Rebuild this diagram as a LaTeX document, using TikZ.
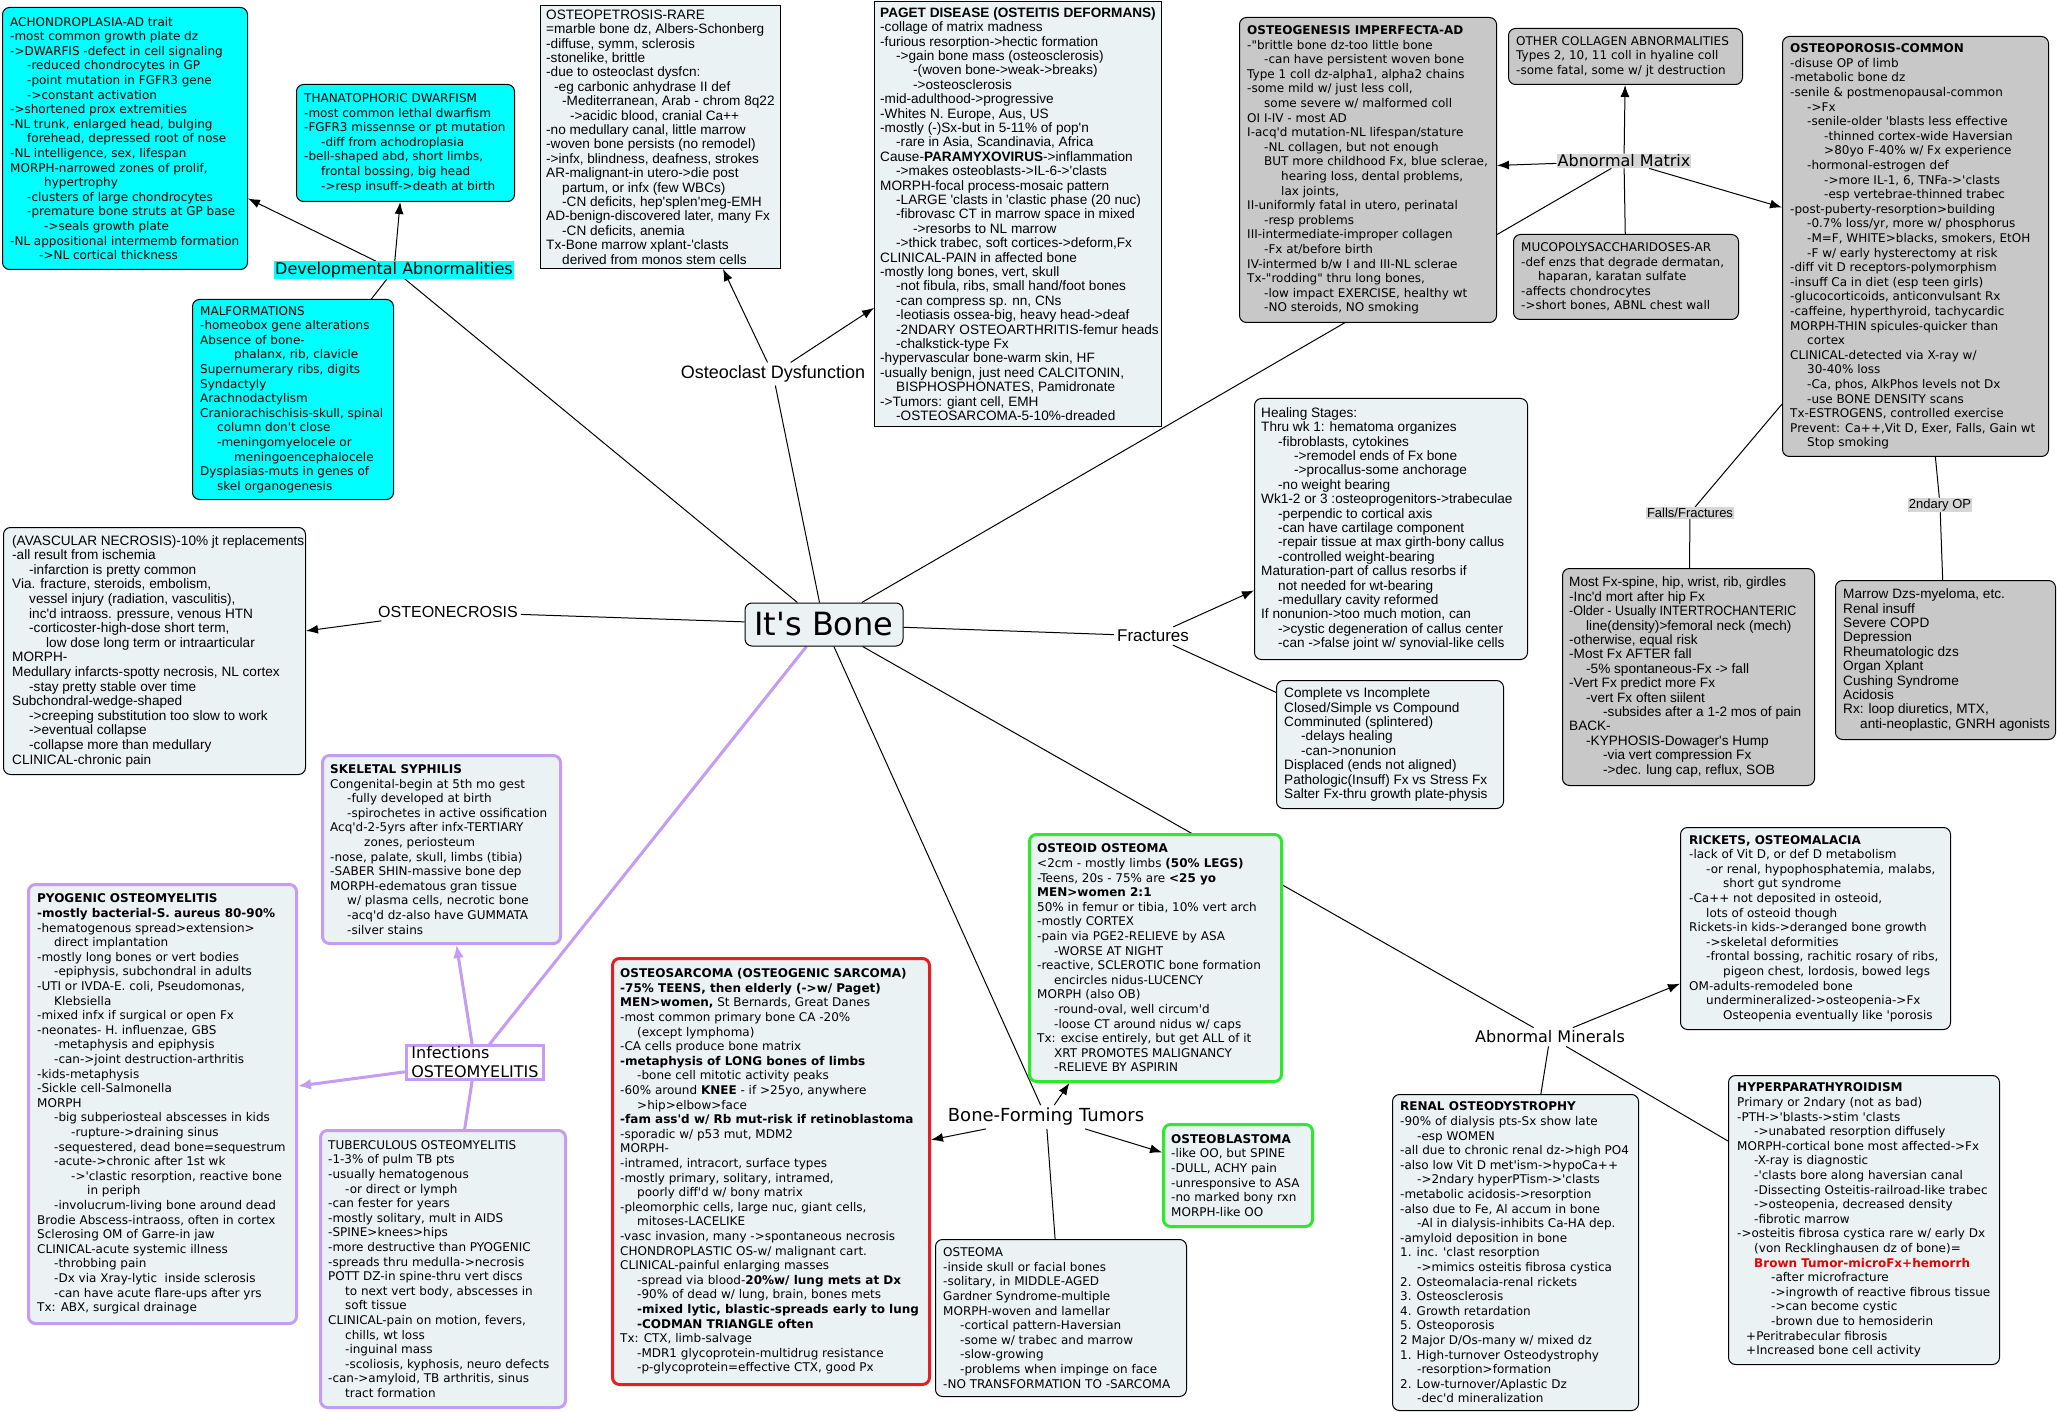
\documentclass[tikz,border=0pt]{standalone}
\usepackage{graphicx}
\usepackage{fontspec}
\newfontfamily\dv{DejaVu Sans}
\newfontfamily\tah{Liberation Sans}
\usetikzlibrary{arrows.meta}
\pgfdeclarelayer{bg}
\pgfsetlayers{bg,main}
\definecolor{cyanfill}{RGB}{0,255,255}
\definecolor{lightfill}{RGB}{235,242,244}
\definecolor{grayfill}{RGB}{200,200,200}
\definecolor{labelgray}{RGB}{214,214,214}
\definecolor{lav}{RGB}{196,156,242}
\definecolor{redb}{RGB}{228,30,36}
\definecolor{greenb}{RGB}{46,232,46}
\definecolor{brownred}{RGB}{225,0,0}
\newcommand\ia{\hspace*{17pt}}
\newcommand\ib{\hspace*{34pt}}
\newcommand\ind[1]{\hspace*{#1pt}}
\tikzset{
  mybx/.style={anchor=north west, draw=black, line width=1pt, rounded corners=7pt, inner sep=0pt},
  cyanbx/.style={mybx, fill=cyanfill},
  lightbx/.style={mybx, fill=lightfill},
  graybx/.style={mybx, fill=grayfill},
  sqbx/.style={mybx, rounded corners=0pt, fill=lightfill},
  lavbx/.style={mybx, fill=lightfill, draw=lav, line width=3pt},
  redbx/.style={mybx, fill=lightfill, draw=redb, line width=3pt},
  greenbx/.style={mybx, fill=lightfill, draw=greenb, line width=3pt},
  vtxt/.style={anchor=west, align=left, inner sep=0pt, font=\dv\fontsize{12}{14.6}\selectfont},
  ttxt/.style={anchor=west, align=left, inner sep=0pt, font=\tah\fontsize{13.6}{14.4}\selectfont},
  lbl/.style={inner sep=3pt, font=\dv\fontsize{16}{19}\selectfont},
  tlbl/.style={inner sep=3pt, font=\tah\fontsize{17}{20}\selectfont},
  conn/.style={draw=black, line width=1pt},
  arr/.style={conn, -{Latex[length=12pt,width=9pt]}},
  lavconn/.style={draw=lav, line width=3pt},
  lavarr/.style={lavconn, -{Latex[length=13pt,width=11pt]}}
}
\begin{document}
\begin{tikzpicture}[x=1pt,y=-1pt,font=\dv]
\useasboundingbox (0,0) rectangle (2057,1412);
\begin{pgfonlayer}{bg}
\fill[white] (0,0) rectangle (2057,1412);
\end{pgfonlayer}

% ---------- central node ----------
\node[lightbx, anchor=center, minimum width=158pt, minimum height=43pt, font=\dv\fontsize{32}{36}\selectfont] (bone) at (824,624.5) {It's Bone};

% ---------- developmental ----------
\node[lbl, fill=cyanfill, inner sep=1pt] (devab) at (394,270) {Developmental Abnormalities};

\node[cyanbx, minimum width=245pt, minimum height=262pt] (ach) at (2,7) {};
\node[vtxt] (achT) at ([xshift=8pt]ach.west) {ACHONDROPLASIA-AD trait\\
-most common growth plate dz\\
->DWARFIS -defect in cell signaling\\
\ia -reduced chondrocytes in GP\\
\ia -point mutation in FGFR3 gene\\
\ia ->constant activation\\
->shortened prox extremities\\
-NL trunk, enlarged head, bulging\\
\ia forehead, depressed root of nose\\
-NL intelligence, sex, lifespan\\
MORPH-narrowed zones of prolif,\\
\ib hypertrophy\\
\ia -clusters of large chondrocytes\\
\ia -premature bone struts at GP base\\
\ib ->seals growth plate\\
-NL appositional intermemb formation\\
\ind{29}->NL cortical thickness};

\node[cyanbx, minimum width=218pt, minimum height=117pt] (than) at (296,84) {};
\node[vtxt] (thanT) at ([xshift=8pt]than.west) {THANATOPHORIC DWARFISM\\
-most common lethal dwarfism\\
-FGFR3 missennse or pt mutation\\
\ia -diff from achodroplasia\\
-bell-shaped abd, short limbs,\\
\ia frontal bossing, big head\\
\ia ->resp insuff->death at birth};

\node[cyanbx, minimum width=201pt, minimum height=200pt] (malf) at (192,299) {};
\node[vtxt] (malfT) at ([xshift=8pt]malf.west) {MALFORMATIONS\\
-homeobox gene alterations\\
Absence of bone-\\
\ib phalanx, rib, clavicle\\
Supernumerary ribs, digits\\
Syndactyly\\
Arachnodactylism\\
Craniorachischisis-skull, spinal\\
\ia column don't close\\
\ia -meningomyelocele or\\
\ib meningoencephalocele\\
Dysplasias-muts in genes of\\
\ia skel organogenesis};

% ---------- osteoclast dysfunction ----------
\node[tlbl, font=\tah\fontsize{18}{21}\selectfont] (ocd) at (773,374) {Osteoclast Dysfunction};

\node[sqbx, minimum width=240pt, minimum height=263pt] (opet) at (540,5) {};
\node[ttxt] (opetT) at ([xshift=6pt]opet.west) {OSTEOPETROSIS-RARE\\
=marble bone dz, Albers-Schonberg\\
-diffuse, symm, sclerosis\\
-stonelike, brittle\\
-due to osteoclast dysfcn:\\
\ind{8}-eg carbonic anhydrase II def\\
\ind{16}-Mediterranean, Arab - chrom 8q22\\
\ind{24}->acidic blood, cranial Ca++\\
-no medullary canal, little marrow\\
-woven bone persists (no remodel)\\
->infx, blindness, deafness, strokes\\
AR-malignant-in utero->die post\\
\ind{16}partum, or infx (few WBCs)\\
\ind{16}-CN deficits, hep'splen'meg-EMH\\
AD-benign-discovered later, many Fx\\
\ind{16}-CN deficits, anemia\\
Tx-Bone marrow xplant-'clasts\\
\ind{16}derived from monos stem cells};

\node[sqbx, minimum width=287pt, minimum height=425pt] (paget) at (874,1) {};
\node[ttxt] (pagetT) at ([xshift=6pt]paget.west) {\textbf{PAGET DISEASE (OSTEITIS DEFORMANS)}\\
-collage of matrix madness\\
-furious resorption->hectic formation\\
\ind{16}->gain bone mass (osteosclerosis)\\
\ind{33}-(woven bone->weak->breaks)\\
\ind{33}->osteosclerosis\\
-mid-adulthood->progressive\\
-Whites N. Europe, Aus, US\\
-mostly (-)Sx-but in 5-11\% of pop'n\\
\ind{16}-rare in Asia, Scandinavia, Africa\\
Cause-\textbf{PARAMYXOVIRUS}->inflammation\\
\ind{16}->makes osteoblasts->IL-6->'clasts\\
MORPH-focal process-mosaic pattern\\
\ind{16}-LARGE 'clasts in 'clastic phase (20 nuc)\\
\ind{16}-fibrovasc CT in marrow space in mixed\\
\ind{33}->resorbs to NL marrow\\
\ind{16}->thick trabec, soft cortices->deform,Fx\\
CLINICAL-PAIN in affected bone\\
-mostly long bones, vert, skull\\
\ind{16}-not fibula, ribs, small hand/foot bones\\
\ind{16}-can compress sp. nn, CNs\\
\ind{16}-leotiasis ossea-big, heavy head->deaf\\
\ind{16}-2NDARY OSTEOARTHRITIS-femur heads\\
\ind{16}-chalkstick-type Fx\\
-hypervascular bone-warm skin, HF\\
-usually benign, just need CALCITONIN,\\
\ind{16}BISPHOSPHONATES, Pamidronate\\
->Tumors: giant cell, EMH\\
\ind{16}-OSTEOSARCOMA-5-10\%-dreaded};

% ---------- abnormal matrix ----------
\node[lbl, fill=labelgray, inner sep=1pt] (amat) at (1624,161) {Abnormal Matrix};

\node[graybx, minimum width=257pt, minimum height=305pt] (oi) at (1239,17) {};
\node[vtxt] (oiT) at ([xshift=8pt]oi.west) {\textbf{OSTEOGENESIS IMPERFECTA-AD}\\
-"brittle bone dz-too little bone\\
\ia -can have persistent woven bone\\
Type 1 coll dz-alpha1, alpha2 chains\\
-some mild w/ just less coll,\\
\ia some severe w/ malformed coll\\
OI I-IV - most AD\\
I-acq'd mutation-NL lifespan/stature\\
\ia -NL collagen, but not enough\\
\ia BUT more childhood Fx, blue sclerae,\\
\ib hearing loss, dental problems,\\
\ib lax joints,\\
II-uniformly fatal in utero, perinatal\\
\ia -resp problems\\
III-intermediate-improper collagen\\
\ia -Fx at/before birth\\
IV-intermed b/w I and III-NL sclerae\\
Tx-"rodding" thru long bones,\\
\ia -low impact EXERCISE, healthy wt\\
\ia -NO steroids, NO smoking};

\node[graybx, minimum width=234pt, minimum height=56pt] (oc) at (1508,28) {};
\node[vtxt] (ocT) at ([xshift=8pt]oc.west) {OTHER COLLAGEN ABNORMALITIES\\
Types 2, 10, 11 coll in hyaline coll\\
-some fatal, some w/ jt destruction};

\node[graybx, minimum width=225pt, minimum height=85pt] (muco) at (1513,234) {};
\node[vtxt] (mucoT) at ([xshift=8pt]muco.west) {MUCOPOLYSACCHARIDOSES-AR\\
-def enzs that degrade dermatan,\\
\ia haparan, karatan sulfate\\
-affects chondrocytes\\
->short bones, ABNL chest wall};

\node[graybx, minimum width=266pt, minimum height=420pt] (op) at (1782,36) {};
\node[vtxt] (opT) at ([xshift=8pt]op.west) {\textbf{OSTEOPOROSIS-COMMON}\\
-disuse OP of limb\\
-metabolic bone dz\\
-senile \& postmenopausal-common\\
\ia ->Fx\\
\ia -senile-older 'blasts less effective\\
\ib -thinned cortex-wide Haversian\\
\ib >80yo F-40\% w/ Fx experience\\
\ia -hormonal-estrogen def\\
\ib ->more IL-1, 6, TNFa->'clasts\\
\ib -esp vertebrae-thinned trabec\\
-post-puberty-resorption>building\\
\ia -0.7\% loss/yr, more w/ phosphorus\\
\ia -M=F, WHITE>blacks, smokers, EtOH\\
\ia -F w/ early hysterectomy at risk\\
-diff vit D receptors-polymorphism\\
-insuff Ca in diet (esp teen girls)\\
-glucocorticoids, anticonvulsant Rx\\
-caffeine, hyperthyroid, tachycardic\\
MORPH-THIN spicules-quicker than\\
\ia cortex\\
CLINICAL-detected via X-ray w/\\
\ia 30-40\% loss\\
\ia -Ca, phos, AlkPhos levels not Dx\\
\ia -use BONE DENSITY scans\\
Tx-ESTROGENS, controlled exercise\\
Prevent: Ca++,Vit D, Exer, Falls, Gain wt\\
\ia Stop smoking};

\node[tlbl, font=\tah\fontsize{13}{15}\selectfont, fill=labelgray, inner sep=1pt] (fallsl) at (1690,513) {Falls/Fractures};
\node[tlbl, font=\tah\fontsize{13}{15}\selectfont, fill=labelgray, inner sep=1pt] (secl) at (1940,505) {2ndary OP};

\node[graybx, minimum width=252pt, minimum height=217pt] (falls) at (1562,568) {};
\node[ttxt] (fallsT) at ([xshift=7pt]falls.west) {Most Fx-spine, hip, wrist, rib, girdles\\
-Inc'd mort after hip Fx\\
\scalebox{0.92}[1]{-Older - Usually INTERTROCHANTERIC}\\
\ind{17}line(density)>femoral neck (mech)\\
-otherwise, equal risk\\
-Most Fx AFTER fall\\
\ind{17}-5\% spontaneous-Fx -> fall\\
-Vert Fx predict more Fx\\
\ind{17}-vert Fx often siilent\\
\ind{34}-subsides after a 1-2 mos of pain\\
BACK-\\
\ind{17}-KYPHOSIS-Dowager's Hump\\
\ind{34}-via vert compression Fx\\
\ind{34}->dec. lung cap, reflux, SOB};

\node[graybx, minimum width=220pt, minimum height=159pt] (sec) at (1835,580) {};
\node[ttxt] (secT) at ([xshift=8pt]sec.west) {Marrow Dzs-myeloma, etc.\\
Renal insuff\\
Severe COPD\\
Depression\\
Rheumatologic dzs\\
Organ Xplant\\
Cushing Syndrome\\
Acidosis\\
Rx: loop diuretics, MTX,\\
\ind{17}anti-neoplastic, GNRH agonists};

% ---------- fractures ----------
\node[tlbl] (frac) at (1153,636) {Fractures};

\node[lightbx, minimum width=273pt, minimum height=261pt] (heal) at (1254,398) {};
\node[ttxt] (healT) at ([xshift=7pt]heal.west) {Healing Stages:\\
Thru wk 1: hematoma organizes\\
\ind{17}-fibroblasts, cytokines\\
\ind{33}->remodel ends of Fx bone\\
\ind{33}->procallus-some anchorage\\
\ind{17}-no weight bearing\\
Wk1-2 or 3 :osteoprogenitors->trabeculae\\
\ind{17}-perpendic to cortical axis\\
\ind{17}-can have cartilage component\\
\ind{17}-repair tissue at max girth-bony callus\\
\ind{17}-controlled weight-bearing\\
Maturation-part of callus resorbs if\\
\ind{17}not needed for wt-bearing\\
\ind{17}-medullary cavity reformed\\
If nonunion->too much motion, can\\
\ind{17}->cystic degeneration of callus center\\
\ind{17}-can ->false joint w/ synovial-like cells};

\node[lightbx, minimum width=227pt, minimum height=128pt] (compl) at (1276,680) {};
\node[ttxt] (complT) at ([xshift=8pt]compl.west) {Complete vs Incomplete\\
Closed/Simple vs Compound\\
Comminuted (splintered)\\
\ind{17}-delays healing\\
\ind{17}-can->nonunion\\
Displaced (ends not aligned)\\
Pathologic(Insuff) Fx vs Stress Fx\\
Salter Fx-thru growth plate-physis};

% ---------- osteonecrosis ----------
\node[tlbl, font=\tah\fontsize{16}{19}\selectfont] (onecl) at (448,612) {OSTEONECROSIS};

\node[lightbx, minimum width=302pt, minimum height=247pt] (onec) at (3,527) {};
\node[ttxt, font=\tah\fontsize{13.6}{14.6}\selectfont] (onecT) at ([xshift=9pt]onec.west) {(AVASCULAR NECROSIS)-10\% jt replacements\\
-all result from ischemia\\
\ind{17}-infarction is pretty common\\
Via. fracture, steroids, embolism,\\
\ind{17}vessel injury (radiation, vasculitis),\\
\ind{17}inc'd intraoss. pressure, venous HTN\\
\ind{17}-corticoster-high-dose short term,\\
\ind{34}low dose long term or intraarticular\\
MORPH-\\
Medullary infarcts-spotty necrosis, NL cortex\\
\ind{17}-stay pretty stable over time\\
Subchondral-wedge-shaped\\
\ind{17}->creeping substitution too slow to work\\
\ind{17}->eventual collapse\\
\ind{17}-collapse more than medullary\\
CLINICAL-chronic pain};

% ---------- infections ----------
\node[lbl, draw=lav, line width=3pt, fill=white, align=left, inner xsep=5pt, inner ysep=1pt] (inf) at (475,1062.5) {Infections\\OSTEOMYELITIS};

\node[lavbx, minimum width=238pt, minimum height=188pt] (syph) at (321,754) {};
\node[vtxt] (syphT) at ([xshift=9pt]syph.west) {\textbf{SKELETAL SYPHILIS}\\
Congenital-begin at 5th mo gest\\
\ia -fully developed at birth\\
\ia -spirochetes in active ossification\\
Acq'd-2-5yrs after infx-TERTIARY\\
\ib zones, periosteum\\
-nose, palate, skull, limbs (tibia)\\
-SABER SHIN-massive bone dep\\
MORPH-edematous gran tissue\\
\ia w/ plasma cells, necrotic bone\\
\ia -acq'd dz-also have GUMMATA\\
\ia -silver stains};

\node[lavbx, minimum width=268pt, minimum height=439pt] (pyo) at (27,883) {};
\node[vtxt] (pyoT) at ([xshift=10pt]pyo.west) {\textbf{PYOGENIC OSTEOMYELITIS}\\
\textbf{-mostly bacterial-S. aureus 80-90\%}\\
-hematogenous spread>extension>\\
\ia direct implantation\\
-mostly long bones or vert bodies\\
\ia -epiphysis, subchondral in adults\\
-UTI or IVDA-E. coli, Pseudomonas,\\
\ia Klebsiella\\
-mixed infx if surgical or open Fx\\
-neonates- H. influenzae, GBS\\
\ia -metaphysis and epiphysis\\
\ia -can->joint destruction-arthritis\\
-kids-metaphysis\\
-Sickle cell-Salmonella\\
MORPH\\
\ia -big subperiosteal abscesses in kids\\
\ib -rupture->draining sinus\\
\ia -sequestered, dead bone=sequestrum\\
\ia -acute->chronic after 1st wk\\
\ib ->'clastic resorption, reactive bone\\
\ind{50}in periph\\
\ia -involucrum-living bone around dead\\
Brodie Abscess-intraoss, often in cortex\\
Sclerosing OM of Garre-in jaw\\
CLINICAL-acute systemic illness\\
\ia -throbbing pain\\
\ia -Dx via Xray-lytic\ \ inside sclerosis\\
\ia -can have acute flare-ups after yrs\\
Tx: ABX, surgical drainage};

\node[lavbx, minimum width=245pt, minimum height=277pt] (tb) at (319,1129) {};
\node[vtxt] (tbT) at ([xshift=9pt]tb.west) {TUBERCULOUS OSTEOMYELITIS\\
-1-3\% of pulm TB pts\\
-usually hematogenous\\
\ia -or direct or lymph\\
-can fester for years\\
-mostly solitary, mult in AIDS\\
-SPINE>knees>hips\\
-more destructive than PYOGENIC\\
-spreads thru medulla->necrosis\\
POTT DZ-in spine-thru vert discs\\
\ia to next vert body, abscesses in\\
\ia soft tissue\\
CLINICAL-pain on motion, fevers,\\
\ia chills, wt loss\\
\ia -inguinal mass\\
\ia -scoliosis, kyphosis, neuro defects\\
-can->amyloid, TB arthritis, sinus\\
\ia tract formation};

% ---------- bone-forming tumors ----------
\node[lbl, font=\dv\fontsize{18}{21}\selectfont] (bft) at (1046,1117) {Bone-Forming Tumors};

\node[redbx, minimum width=317pt, minimum height=426pt] (osar) at (611,957) {};
\node[vtxt] (osarT) at ([xshift=9pt]osar.west) {\textbf{OSTEOSARCOMA (OSTEOGENIC SARCOMA)}\\
\textbf{-75\% TEENS, then elderly (->w/ Paget)}\\
\textbf{MEN>women,} St Bernards, Great Danes\\
-most common primary bone CA -20\%\\
\ia (except lymphoma)\\
-CA cells produce bone matrix\\
\textbf{-metaphysis of LONG bones of limbs}\\
\ia -bone cell mitotic activity peaks\\
-60\% around \textbf{KNEE} - if >25yo, anywhere\\
\ia >hip>elbow>face\\
\textbf{-fam ass'd w/ Rb mut-risk if retinoblastoma}\\
-sporadic w/ p53 mut, MDM2\\
MORPH-\\
-intramed, intracort, surface types\\
-mostly primary, solitary, intramed,\\
\ia poorly diff'd w/ bony matrix\\
-pleomorphic cells, large nuc, giant cells,\\
\ia mitoses-LACELIKE\\
-vasc invasion, many ->spontaneous necrosis\\
CHONDROPLASTIC OS-w/ malignant cart.\\
CLINICAL-painful enlarging masses\\
\ia -spread via blood-\textbf{20\%w/ lung mets at Dx}\\
\ia -90\% of dead w/ lung, brain, bones mets\\
\ia \textbf{-mixed lytic, blastic-spreads early to lung}\\
\ia \textbf{-CODMAN TRIANGLE often}\\
Tx: CTX, limb-salvage\\
\ia -MDR1 glycoprotein-multidrug resistance\\
\ia -p-glycoprotein=effective CTX, good Px};

\node[greenbx, minimum width=252pt, minimum height=247pt] (ooid) at (1028,833) {};
\node[vtxt] (ooidT) at ([xshift=9pt]ooid.west) {\textbf{OSTEOID OSTEOMA}\\
<2cm - mostly limbs \textbf{(50\% LEGS)}\\
-Teens, 20s - 75\% are \textbf{<25 yo}\\
\textbf{MEN>women 2:1}\\
50\% in femur or tibia, 10\% vert arch\\
-mostly CORTEX\\
-pain via PGE2-RELIEVE by ASA\\
\ia -WORSE AT NIGHT\\
-reactive, SCLEROTIC bone formation\\
\ia encircles nidus-LUCENCY\\
MORPH (also OB)\\
\ia -round-oval, well circum'd\\
\ia -loose CT around nidus w/ caps\\
Tx: excise entirely, but get ALL of it\\
\ia XRT PROMOTES MALIGNANCY\\
\ia -RELIEVE BY ASPIRIN};

\node[greenbx, minimum width=149pt, minimum height=102pt] (oblast) at (1162,1123) {};
\node[vtxt] (oblastT) at ([xshift=9pt]oblast.west) {\textbf{OSTEOBLASTOMA}\\
-like OO, but SPINE\\
-DULL, ACHY pain\\
-unresponsive to ASA\\
-no marked bony rxn\\
MORPH-like OO};

\node[lightbx, minimum width=251pt, minimum height=157pt] (osteoma) at (935,1239) {};
\node[vtxt] (osteomaT) at ([xshift=8pt]osteoma.west) {OSTEOMA\\
-inside skull or facial bones\\
-solitary, in MIDDLE-AGED\\
Gardner Syndrome-multiple\\
MORPH-woven and lamellar\\
\ia -cortical pattern-Haversian\\
\ia -some w/ trabec and marrow\\
\ia -slow-growing\\
\ia -problems when impinge on face\\
-NO TRANSFORMATION TO -SARCOMA};

% ---------- abnormal minerals ----------
\node[lbl] (amin) at (1550,1037) {Abnormal Minerals};

\node[lightbx, minimum width=270pt, minimum height=202pt] (rick) at (1680,827) {};
\node[vtxt] (rickT) at ([xshift=9pt]rick.west) {\textbf{RICKETS, OSTEOMALACIA}\\
-lack of Vit D, or def D metabolism\\
\ia -or renal, hypophosphatemia, malabs,\\
\ib short gut syndrome\\
-Ca++ not deposited in osteoid,\\
\ia lots of osteoid though\\
Rickets-in kids->deranged bone growth\\
\ia ->skeletal deformities\\
\ia -frontal bossing, rachitic rosary of ribs,\\
\ib pigeon chest, lordosis, bowed legs\\
OM-adults-remodeled bone\\
\ia undermineralized->osteopenia->Fx\\
\ib Osteopenia eventually like 'porosis};

\node[lightbx, minimum width=271pt, minimum height=289pt] (hpt) at (1728,1075) {};
\node[vtxt] (hptT) at ([xshift=9pt]hpt.west) {\textbf{HYPERPARATHYROIDISM}\\
Primary or 2ndary (not as bad)\\
-PTH->'blasts->stim 'clasts\\
\ia ->unabated resorption diffusely\\
MORPH-cortical bone most affected->Fx\\
\ia -X-ray is diagnostic\\
\ia -'clasts bore along haversian canal\\
\ia -Dissecting Osteitis-railroad-like trabec\\
\ia ->osteopenia, decreased density\\
\ia -fibrotic marrow\\
->osteitis fibrosa cystica rare w/ early Dx\\
\ia (von Recklinghausen dz of bone)=\\
\ia \textcolor{brownred}{\textbf{Brown Tumor-microFx+hemorrh}}\\
\ib -after microfracture\\
\ib ->ingrowth of reactive fibrous tissue\\
\ib ->can become cystic\\
\ib -brown due to hemosiderin\\
\ind{9}+Peritrabecular fibrosis\\
\ind{9}+Increased bone cell activity};

\node[lightbx, minimum width=246pt, minimum height=316pt] (renal) at (1392,1094) {};
\node[vtxt] (renalT) at ([xshift=8pt]renal.west) {\textbf{RENAL OSTEODYSTROPHY}\\
-90\% of dialysis pts-Sx show late\\
\ia -esp WOMEN\\
-all due to chronic renal dz->high PO4\\
-also low Vit D met'ism->hypoCa++\\
\ia ->2ndary hyperPTism->'clasts\\
-metabolic acidosis->resorption\\
-also due to Fe, Al accum in bone\\
\ia -Al in dialysis-inhibits Ca-HA dep.\\
-amyloid deposition in bone\\
1. inc. 'clast resorption\\
\ia ->mimics osteitis fibrosa cystica\\
2. Osteomalacia-renal rickets\\
3. Osteosclerosis\\
4. Growth retardation\\
5. Osteoporosis\\
2 Major D/Os-many w/ mixed dz\\
1. High-turnover Osteodystrophy\\
\ia -resorption>formation\\
2. Low-turnover/Aplastic Dz\\
\ia -dec'd mineralization};

% ---------- connectors ----------
\begin{pgfonlayer}{bg}
\draw[conn] (bone) -- (devab);
\draw[conn] (bone) -- (ocd);
\draw[conn] (bone) -- (amat);
\draw[conn] (bone) -- (frac);
\draw[conn] (bone) -- (onecl);
\draw[conn] (bone) -- (bft);
\draw[conn] (bone) -- (amin);
\draw[lavconn] (bone) -- (inf);

\draw[arr] (devab) -- (ach);
\draw[arr] (devab) -- (than);
\draw[conn] (devab) -- (malf);

\draw[arr] (ocd) -- (opet);
\draw[arr] (ocd) -- (paget);

\draw[arr] (amat) -- (oi);
\draw[arr] (amat) -- (oc);
\draw[conn] (amat) -- (muco);
\draw[arr] (amat) -- (op);

\draw[conn] (op) -- (fallsl);
\draw[conn] (fallsl) -- (falls);
\draw[conn] (op) -- (secl);
\draw[conn] (secl) -- (sec);

\draw[arr] (frac) -- (heal);
\draw[conn] (frac) -- (compl);

\draw[arr] (onecl) -- (onec);

\draw[lavarr] (inf) -- (syph);
\draw[lavarr] (inf) -- (pyo);
\draw[lavconn] (inf) -- (tb);

\draw[arr] (bft) -- (osar);
\draw[arr] (bft) -- (ooid);
\draw[arr] (bft) -- (oblast);
\draw[conn] (bft) -- (osteoma);

\draw[arr] (amin) -- (rick);
\draw[conn] (amin) -- (renal);
\draw[conn] (amin) -- (hpt);
\end{pgfonlayer}
\end{tikzpicture}
\end{document}
